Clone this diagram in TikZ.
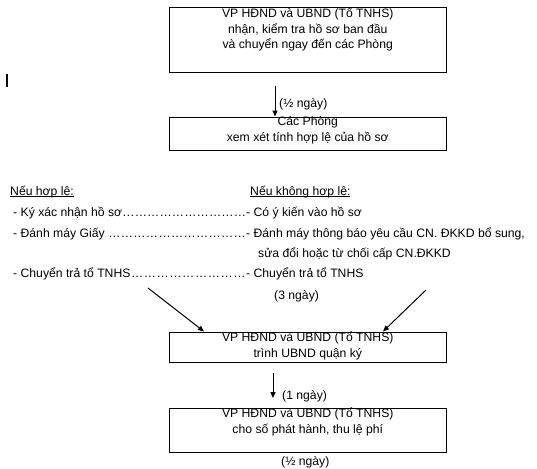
\documentclass[tikz,border=0pt]{standalone}
\usepackage{fontspec}
\setmainfont{Liberation Sans}
\usetikzlibrary{positioning,calc,arrows.meta}

\newcommand\ulin[1]{\setbox0\hbox{#1}\rlap{\rule[-2.2pt]{\wd0}{0.9pt}}\box0}
\newcommand\lead[2]{\makebox[233pt][l]{#1\xleaders\hbox{…}\hfill}#2}

\begin{document}
\begin{tikzpicture}[x=1pt,y=-1pt]
\tikzstyle{bx}=[draw,line width=1pt,minimum width=277.5pt,inner sep=0pt];
\tikzstyle{txt}=[anchor=north,align=center,inner sep=0pt,font=\fontsize{12.2}{15.5}\selectfont];
\tikzstyle{lst}=[anchor=base west,inner sep=0pt,font=\fontsize{12.2}{15}\selectfont];
\tikzstyle{arr}=[-{Triangle[length=6pt,width=5pt]},line width=1pt];

\useasboundingbox (0,0) rectangle (537,468);

% boxes
\node[bx,minimum height=65pt] (b1) at (307.75,40.5) {};
\node[bx,minimum height=33pt] (b2) at (307.75,133.5) {};
\node[bx,minimum height=30pt] (b3) at (307.75,347) {};
\node[bx,minimum height=44pt] (b4) at (307.75,430) {};

\node[txt,below=0pt of b1.north] (t1) {VP HĐND và UBND (Tổ TNHS)\\nhận, kiểm tra hồ sơ ban đầu\\và chuyển ngay đến các Phòng};
\node[txt,below=0pt of b2.north] (t2) {Các Phòng\\xem xét tính hợp lệ của hồ sơ};
\node[txt,below=0pt of b3.north] (t3) {VP HĐND và UBND (Tổ TNHS)\\trình UBND quận ký};
\node[txt,below=0pt of b4.north] (t4) {VP HĐND và UBND (Tổ TNHS)\\cho số phát hành, thu lệ phí};

% the two columns
\node[lst] (h1) at (10,195) {\ulin{Nếu hợp lệ:}};
\node[lst] (h2) at (250,195) {\ulin{Nếu không hợp lệ:}};
\node[lst] (l1) at (13,216) {\lead{- Ký xác nhận hồ sơ}{- Có ý kiến vào hồ sơ}};
\node[lst] (l2) at (13,237) {\lead{- Đánh máy Giấy }{- Đánh máy thông báo yêu cầu CN. ĐKKD bổ sung,}};
\node[lst] (l3) at (258,257) {sửa đổi hoặc từ chối cấp CN.ĐKKD};
\node[lst] (l4) at (13,277) {\lead{- Chuyển trả tổ TNHS}{- Chuyển trả tổ TNHS}};
\node[lst] (d3) at (274,299) {(3 ngày)};

% connectors
\coordinate (a1) at (275,86);
\coordinate (a2) at (273,373);
\coordinate (a2e) at (273,398);
\coordinate (cl) at (148,288);
\coordinate (cr) at (426,290);

\draw[arr] (a1) -- (a1 |- b2.north);
\node[lst] (d1) at (279,107) {(½ ngày)};
\draw[arr] (a2) -- (a2e);
\node[lst] (d2) at (282,399) {(1 ngày)};
\draw[arr] (cl) -- (b3.north -| 204,0);
\draw[arr] (cr) -- (b3.north -| 383,0);
\node[lst] (d4) at (281,465) {(½ ngày)};

%\draw (7,74) -- (7,87);
\draw[line width=1.3pt] (7,74) -- (7,87);

\end{tikzpicture}
\end{document}
